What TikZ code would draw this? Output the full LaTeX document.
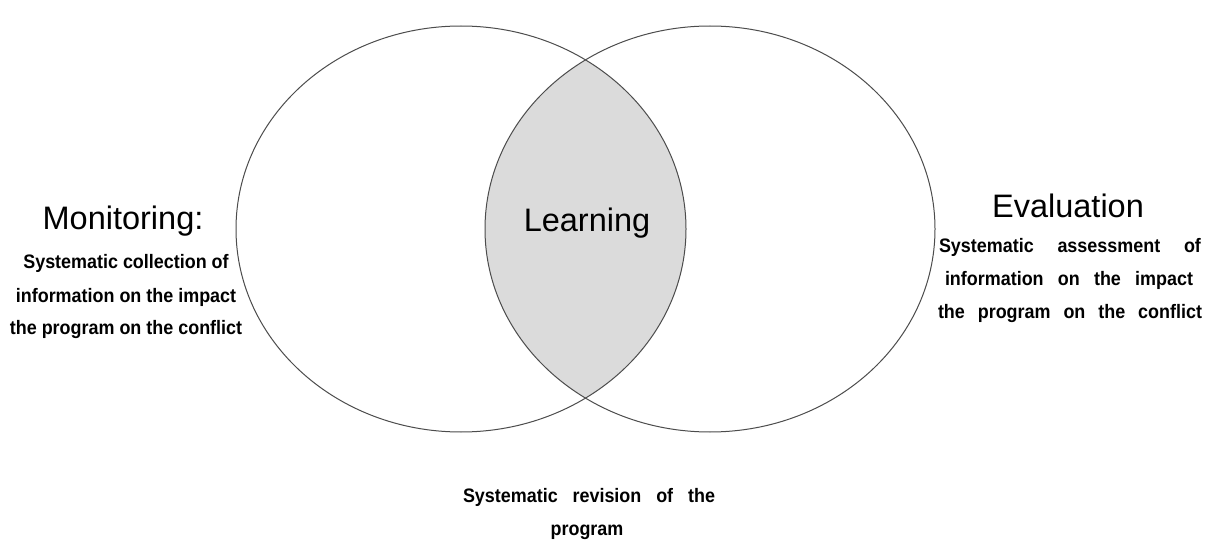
\documentclass[tikz,border=0pt]{standalone}
\usepackage{fontspec}
\setmainfont{Liberation Sans}
\newfontfamily\subfont[FakeStretch=0.92]{Liberation Sans}
\begin{document}
\begin{tikzpicture}[x=1pt,y=-1pt,
  big/.style={font=\fontsize{32.5}{38}\selectfont, anchor=base, inner sep=0pt},
  small/.style={font=\subfont\bfseries\fontsize{19.5}{22}\selectfont, anchor=base, inner sep=0pt},
  ring/.style={draw=black!70, line width=1pt}]
\useasboundingbox[fill=white] (0,0) rectangle (1205,540);
\begin{scope}
  \clip (461,229) ellipse [x radius=225pt, y radius=203pt];
  \fill[black!14] (710,229) ellipse [x radius=225pt, y radius=203pt];
\end{scope}
\draw[ring] (461,229) ellipse [x radius=225pt, y radius=203pt];
\draw[ring] (710,229) ellipse [x radius=225pt, y radius=203pt];
% left
\node[big] (mon) at (123,230) {Monitoring:};
\node[small] (m1) at (126,269) {Systematic collection of};
\node[small] (m2) at (126,302) {information on the impact};
\node[small] (m3) at (126,334) {the program on the conflict};
% center
\node[big] (learn) at (587,232) {Learning};
% right
\node[big] (eval) at (1068,218) {Evaluation};
\node[small] (e1) at (1070,252) {\makebox[262pt][s]{Systematic assessment of}};
\node[small] (e2) at (1069,285) {\makebox[248pt][s]{information on the impact}};
\node[small] (e3) at (1070,318) {\makebox[264pt][s]{the program on the conflict}};
% bottom
\node[small] (r1) at (589,502) {\makebox[252pt][s]{Systematic revision of the}};
\node[small] (r2) at (587,535) {program};
\end{tikzpicture}
\end{document}
